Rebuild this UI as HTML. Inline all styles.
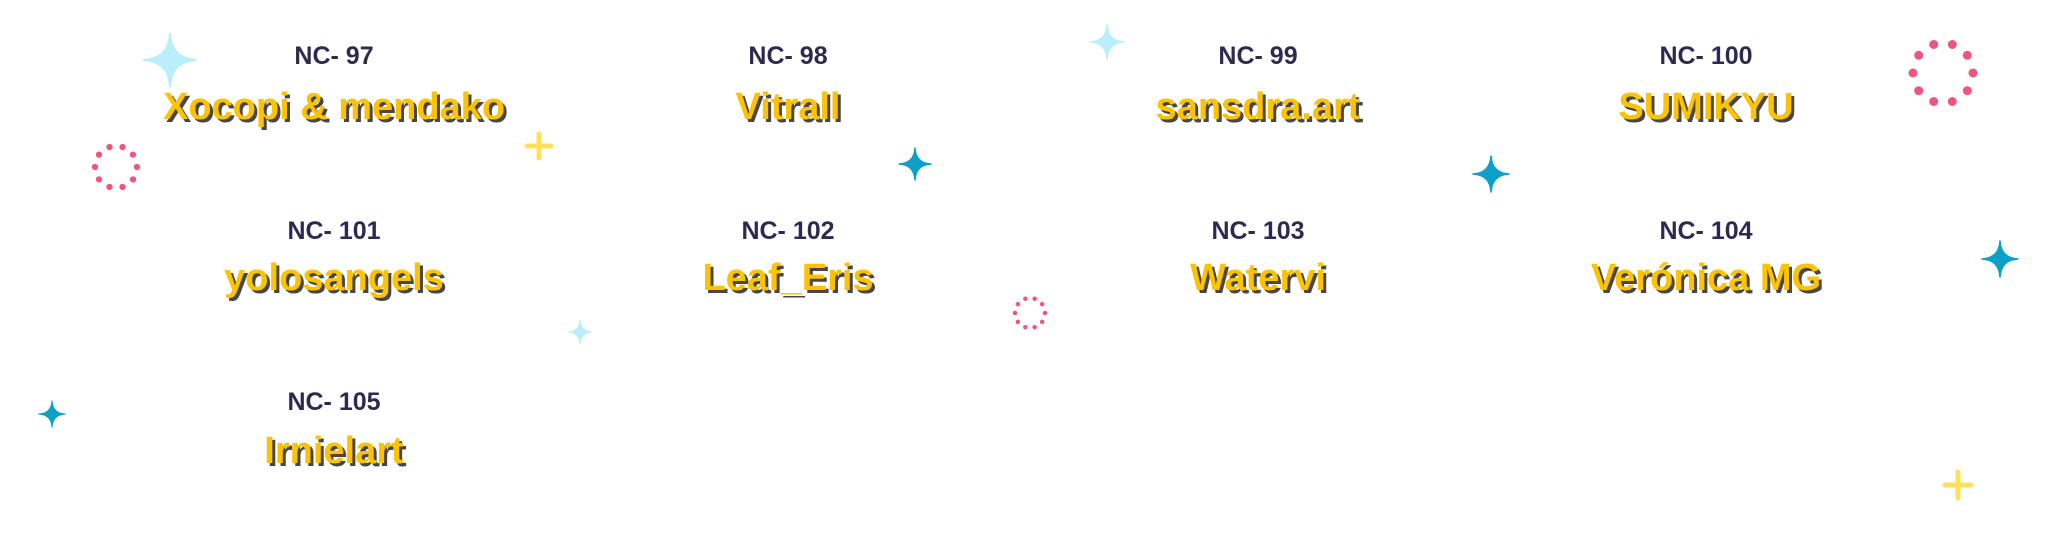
<!DOCTYPE html>
<html><head><meta charset="utf-8"><style>
html,body{margin:0;padding:0;background:#fff;}
body{width:2048px;height:550px;position:relative;overflow:hidden;font-family:"Liberation Sans",sans-serif;}
.nc{position:absolute;width:600px;margin-left:-300px;text-align:center;font-weight:bold;font-size:25px;color:#2e2a4f;line-height:1;}
.nm{position:absolute;width:700px;margin-left:-350px;text-align:center;font-weight:bold;font-size:38px;color:#fbc300;line-height:1;text-shadow:3px 3px 0 #4a4646;}
svg{position:absolute;left:0;top:0;}
</style></head><body>
<svg width="2048" height="550">
<defs>
<path id="sp" d="M0,-1 Q0.05,-0.05 1,0 Q0.05,0.05 0,1 Q-0.05,0.05 -1,0 Q-0.05,-0.05 0,-1Z" stroke-width="0.09" stroke-linejoin="round"/>
<g id="dc"><circle cx="0.31" cy="-0.95" r="0.15"/><circle cx="0.81" cy="-0.59" r="0.15"/><circle cx="1" cy="0" r="0.15"/><circle cx="0.81" cy="0.59" r="0.15"/><circle cx="0.31" cy="0.95" r="0.15"/><circle cx="-0.31" cy="0.95" r="0.15"/><circle cx="-0.81" cy="0.59" r="0.15"/><circle cx="-1" cy="0" r="0.15"/><circle cx="-0.81" cy="-0.59" r="0.15"/><circle cx="-0.31" cy="-0.95" r="0.15"/></g>
</defs>
<g fill="#b9eefb" stroke="#b9eefb"><use href="#sp" transform="translate(170,60) scale(26)"/><use href="#sp" transform="translate(1107,42) scale(17)"/><use href="#sp" transform="translate(580,332) scale(12)"/></g>
<g fill="#0aa0c8" stroke="#0aa0c8"><use href="#sp" transform="translate(915,164) scale(16)"/><use href="#sp" transform="translate(1491,174) scale(18)"/><use href="#sp" transform="translate(2000,259) scale(18)"/><use href="#sp" transform="translate(52,414) scale(13)"/></g>
<g fill="#f0557c"><use href="#dc" transform="translate(116,167) scale(21)"/><use href="#dc" transform="translate(1943,73) scale(30)"/><use href="#dc" transform="translate(1030,313) scale(15)"/></g>
<g stroke="#ffe05a" stroke-width="5" stroke-linecap="round"><path d="M539,134V158M527,146H551"/><path d="M1958,472V498M1945,485H1971"/></g>
</svg>
<div class="nc" style="left:334px;top:44px">NC- 97</div><div class="nm" style="left:334px;top:88px">Xocopi &amp; mendako</div>
<div class="nc" style="left:788px;top:44px">NC- 98</div><div class="nm" style="left:788px;top:88px">Vitrall</div>
<div class="nc" style="left:1258px;top:44px">NC- 99</div><div class="nm" style="left:1258px;top:88px">sansdra.art</div>
<div class="nc" style="left:1706px;top:44px">NC- 100</div><div class="nm" style="left:1706px;top:88px">SUMIKYU</div>
<div class="nc" style="left:334px;top:219px">NC- 101</div><div class="nm" style="left:334px;top:259px">yolosangels</div>
<div class="nc" style="left:788px;top:219px">NC- 102</div><div class="nm" style="left:788px;top:259px">Leaf_Eris</div>
<div class="nc" style="left:1258px;top:219px">NC- 103</div><div class="nm" style="left:1258px;top:259px">Watervi</div>
<div class="nc" style="left:1706px;top:219px">NC- 104</div><div class="nm" style="left:1706px;top:259px">Verónica MG</div>
<div class="nc" style="left:334px;top:390px">NC- 105</div><div class="nm" style="left:334px;top:432px">Irnielart</div>
</body></html>
